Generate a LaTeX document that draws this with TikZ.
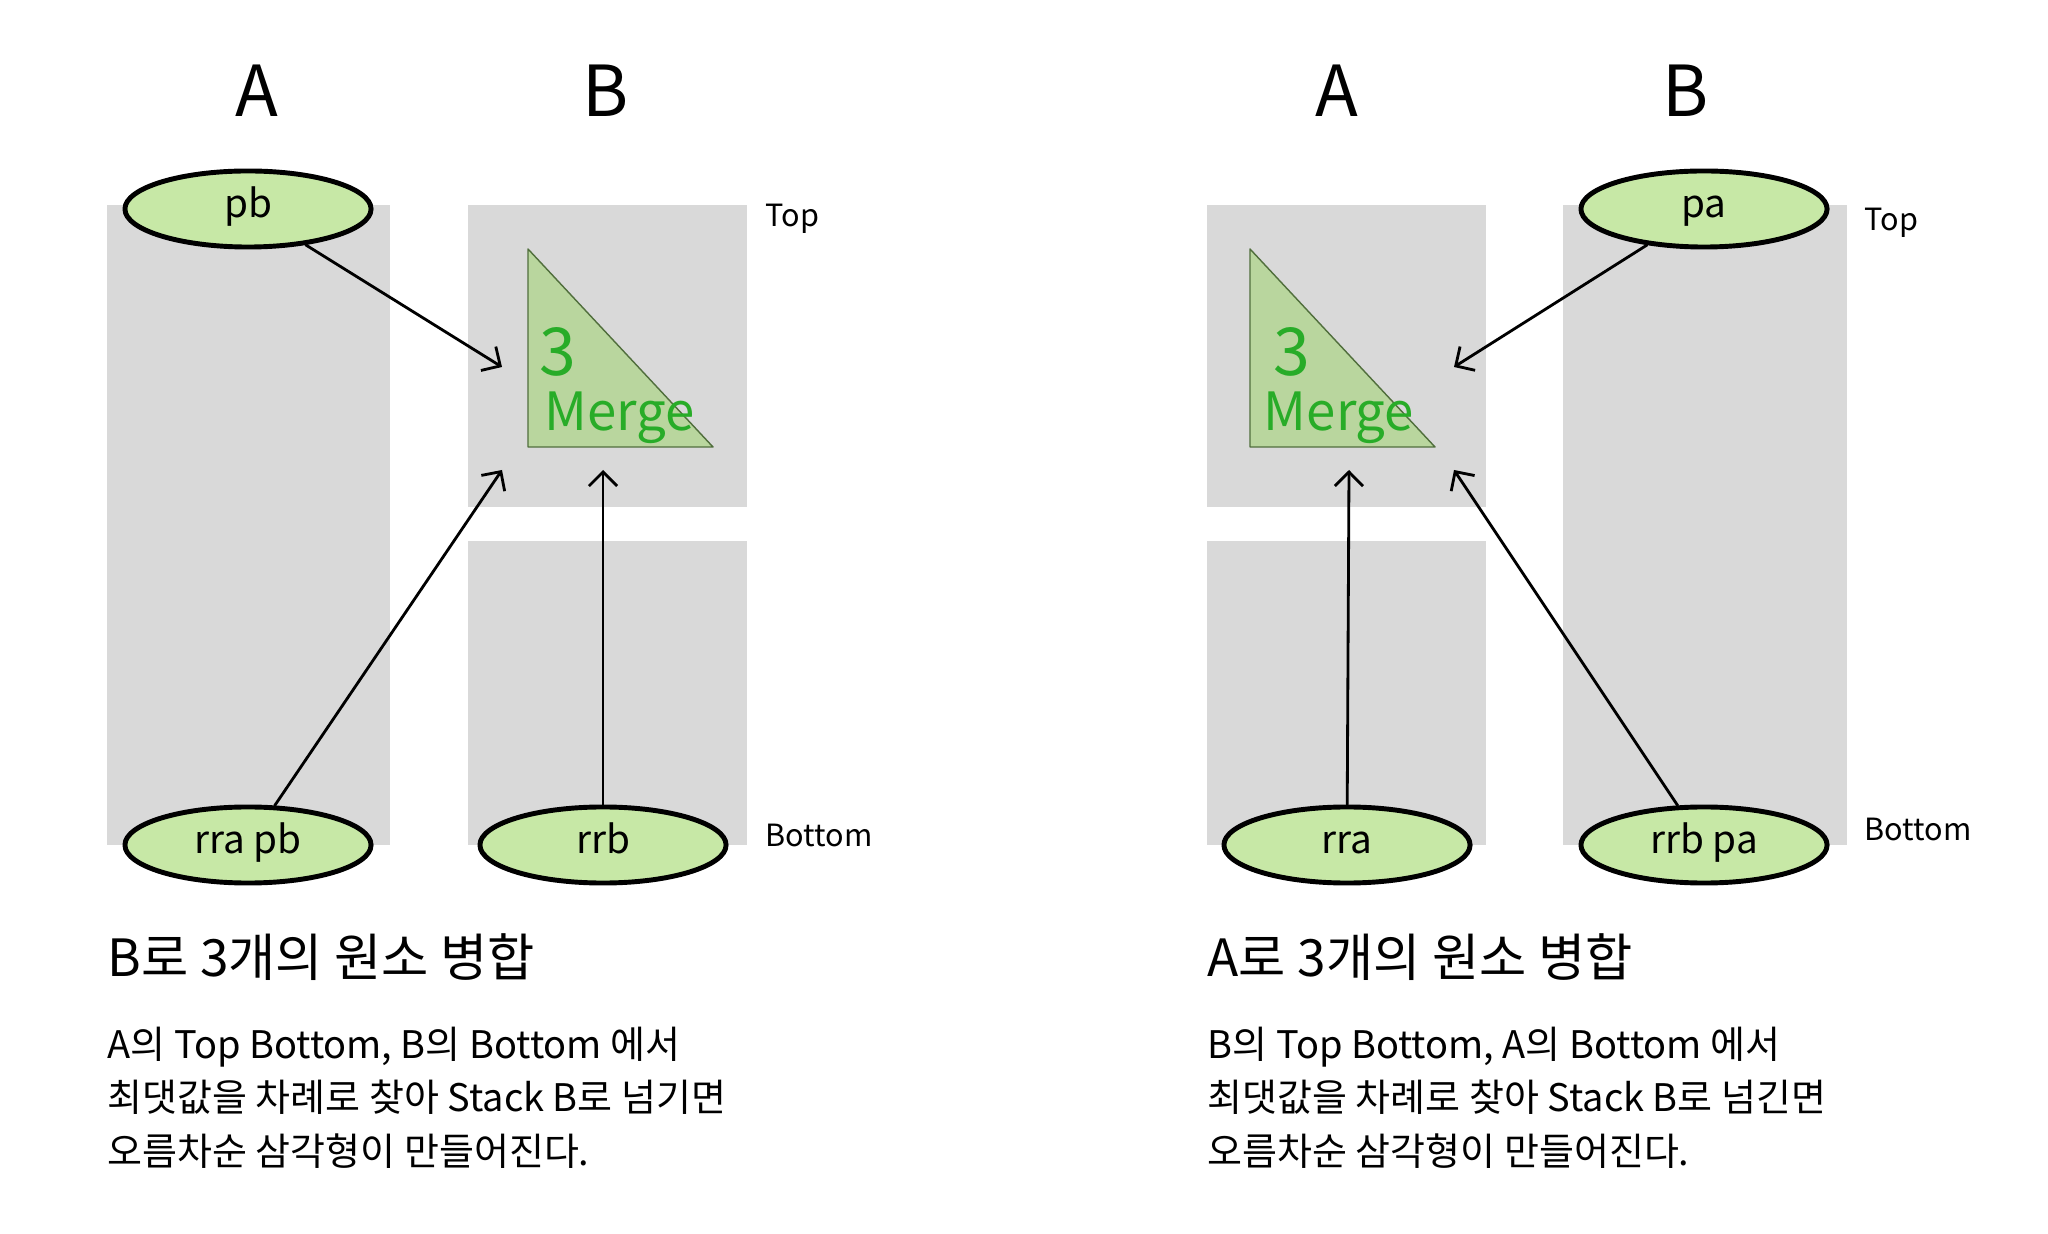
\documentclass[tikz,border=0pt]{standalone}
\usepackage{fontspec}
\setmainfont{Noto Sans CJK KR}
\usetikzlibrary{arrows.meta,shapes.geometric}

\definecolor{stackgray}{RGB}{217,217,217}
\definecolor{elemfill}{RGB}{199,232,166}
\definecolor{trifill}{RGB}{185,214,158}
\definecolor{triline}{RGB}{80,110,60}
\definecolor{mergegreen}{RGB}{40,172,40}

\begin{document}
\begin{tikzpicture}[x=0.01cm, y=-0.01cm, line cap=round, line join=round,
  elem/.style={ellipse, draw, line width=1.4pt, fill=elemfill,
    minimum width=2.46cm, minimum height=0.76cm, inner sep=0pt,
    text height=0.72em, text depth=0.22em,
    font=\fontsize{11}{13}\selectfont},
  hdr/.style={font=\fontsize{20}{24}\selectfont},
  side/.style={anchor=west, inner sep=0pt, font=\fontsize{8.7}{11}\selectfont},
  push/.style={line width=0.8pt, -{Straight Barb[length=4pt,width=8pt]}},
  title/.style={anchor=west, inner sep=0pt, font=\fontsize{14.6}{18}\selectfont},
  para/.style={anchor=north west, inner sep=0pt, align=left,
    font=\fontsize{10.8}{15.2}\selectfont},
  trinum/.style={text=mergegreen, font=\fontsize{18.8}{22}\selectfont},
  trilbl/.style={text=mergegreen, font=\fontsize{15}{18}\selectfont}]

\useasboundingbox (0,0) rectangle (2048,1234);

% ===== Left panel: merge into B =====
\node[hdr] (hdrA1) at (257,91) {A};
\node[hdr] (hdrB1) at (606,91) {B};

% stacks
\fill[stackgray] (107,205) rectangle (390,845);
\fill[stackgray] (468,205) rectangle (747,507);
\fill[stackgray] (468,541) rectangle (747,845);

% merged triangle
\filldraw[fill=trifill, draw=triline, line width=0.4pt]
  (528,249) -- (528,447) -- (713,447) -- cycle;
\node[trinum] (num1) at (558,352) {3};
\node[trilbl] (mrg1) at (620,418) {Merge};

% elements
\node[elem] (pb)    at (248,209) {pb};
\node[elem] (rrapb) at (248,845) {rra pb};
\node[elem] (rrb)   at (603,845) {rrb};

\coordinate (inB1) at (502,367);
\coordinate (inB2) at (502,470);
\coordinate (inB3) at (603,470);
\draw[push] (pb) -- (inB1);
\draw[push] (rrapb) -- (inB2);
\draw[push] (rrb) -- (inB3);

\node[side] (top1) at (765,219) {Top};
\node[side] (bot1) at (765,835) {Bottom};

\node[title] (ttl1) at (107,957) {B로 3개의 원소 병합};
\node[para] (txt1) at (107,1026) {A의 Top Bottom, B의 Bottom 에서\\
  최댓값을 차례로 찾아 Stack B로 넘기면\\
  오름차순 삼각형이 만들어진다.};

% ===== Right panel: merge into A =====
\node[hdr] (hdrA2) at (1337,91) {A};
\node[hdr] (hdrB2) at (1686,91) {B};

% stacks
\fill[stackgray] (1207,205) rectangle (1486,507);
\fill[stackgray] (1207,541) rectangle (1486,845);
\fill[stackgray] (1563,205) rectangle (1847,845);

% merged triangle
\filldraw[fill=trifill, draw=triline, line width=0.4pt]
  (1250,249) -- (1250,447) -- (1435,447) -- cycle;
\node[trinum] (num2) at (1292,352) {3};
\node[trilbl] (mrg2) at (1339,418) {Merge};

% elements
\node[elem] (pa)    at (1704,209) {pa};
\node[elem] (rra)   at (1347,845) {rra};
\node[elem] (rrbpa) at (1704,845) {rrb pa};

\coordinate (inA1) at (1454,367);
\coordinate (inA2) at (1349,470);
\coordinate (inA3) at (1454,470);
\draw[push] (pa) -- (inA1);
\draw[push] (rra) -- (inA2);
\draw[push] (rrbpa) -- (inA3);

\node[side] (top2) at (1864,223) {Top};
\node[side] (bot2) at (1864,829) {Bottom};

\node[title] (ttl2) at (1207,957) {A로 3개의 원소 병합};
\node[para] (txt2) at (1207,1026) {B의 Top Bottom, A의 Bottom 에서\\
  최댓값을 차례로 찾아 Stack B로 넘긴면\\
  오름차순 삼각형이 만들어진다.};

\end{tikzpicture}
\end{document}
